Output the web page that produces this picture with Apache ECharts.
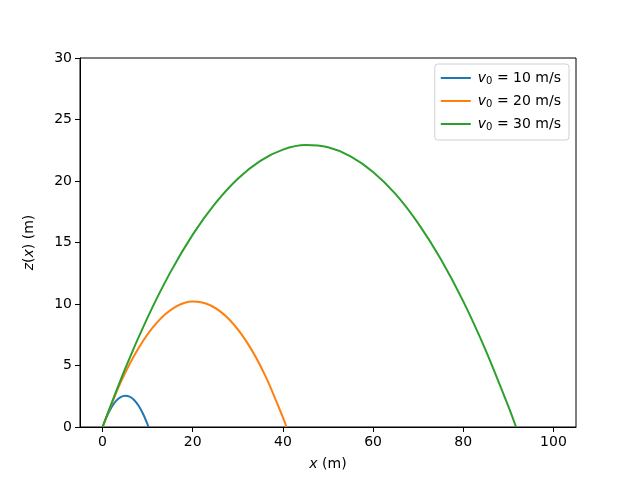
<!DOCTYPE html>
<html>
<head>
<meta charset="utf-8">
<script src="https://cdn.jsdelivr.net/npm/echarts@6/dist/echarts.min.js"></script>
<style>
  html, body {margin: 0; padding: 0; background: #fff;}
  #chart {width: 640px; height: 480px;}
</style>
</head>
<body>
<div id="chart"></div>
<script>
// trajectories, [x (m), z (m)]
let speeds = [10, 20, 30];
let colors = ['#1f77b4', '#ff7f0e', '#2ca02c'];
let traj10 = [[0, 0], [1, 0.9], [2, 1.61], [3, 2.12], [4, 2.43], [5, 2.55], [6, 2.47],
    [7, 2.2], [8, 1.73], [9, 1.06], [10, 0.2], [10.2, 0]];
let traj20 = [[0, 0], [4, 3.61], [8, 6.43], [12, 8.47], [16, 9.73], [20, 10.2], [24, 9.88],
    [28, 8.78], [32, 6.9], [36, 4.24], [40, 0.78], [40.8, 0]];
let traj30 = [[0, 0], [5, 4.73], [10, 8.91], [15, 12.55], [20, 15.64], [25, 18.18], [30, 20.19],
    [35, 21.64], [40, 22.55], [45, 22.92], [50, 22.74], [55, 22.01], [60, 20.74], [65, 18.93],
    [70, 16.56], [75, 13.66], [80, 10.21], [85, 6.21], [90, 1.67], [91.7, 0]];
let xTicks = [0, 20, 40, 60, 80, 100];
let yTicks = [0, 5, 10, 15, 20, 25, 30];

let font = 'DejaVu Sans';
let trajs = [traj10, traj20, traj30];
let names = speeds.map(function (v) { return 'v' + v; });

let chart = echarts.init(document.getElementById('chart'), null, {renderer: 'canvas'});
chart.setOption({
    animation: false,
    backgroundColor: '#fff',
    grid: {left: 80, right: 64, top: 58, bottom: 53, show: true, borderColor: '#000', borderWidth: 1, backgroundColor: 'transparent'},
    legend: {
        orient: 'vertical', right: 71, top: 64, data: names,
        icon: 'rect', itemWidth: 30, itemHeight: 2, itemGap: 8,
        padding: [7, 8, 8, 6],
        backgroundColor: '#fff', borderColor: '#d0d0d0', borderWidth: 1, borderRadius: 3,
        formatter: function (n) {
            return '{i|v}{s|0}{t| = ' + n.slice(1) + ' m/s}';
        },
        textStyle: {
            fontFamily: font, fontSize: 14, color: '#000', padding: [0, 0, 0, 2],
            rich: {
                i: {fontFamily: font, fontSize: 14, fontStyle: 'italic', color: '#000'},
                s: {fontFamily: font, fontSize: 10, color: '#000', verticalAlign: 'bottom', padding: [6, 0, 0, 0]},
                t: {fontFamily: font, fontSize: 14, color: '#000'}
            }
        }
    },
    xAxis: {
        type: 'value', min: -5, max: 105,
        name: '{i|x} (m)', nameLocation: 'middle', nameGap: 30,
        nameTextStyle: {fontFamily: font, fontSize: 14, color: '#000',
            rich: {i: {fontFamily: font, fontSize: 14, fontStyle: 'italic', color: '#000'}}},
        splitLine: {show: false},
        axisLine: {onZero: false, lineStyle: {color: '#000', width: 1}},
        axisTick: {show: true, length: 5, inside: false, customValues: xTicks, lineStyle: {color: '#000'}},
        axisLabel: {customValues: xTicks, fontFamily: font, fontSize: 14, color: '#000', margin: 8}
    },
    yAxis: {
        type: 'value', min: 0, max: 30, interval: 5,
        name: '{i|z}({i|x}) (m)', nameLocation: 'middle', nameGap: 44, nameRotate: 90,
        nameTextStyle: {fontFamily: font, fontSize: 14, color: '#000',
            rich: {i: {fontFamily: font, fontSize: 14, fontStyle: 'italic', color: '#000'}}},
        splitLine: {show: false},
        axisLine: {show: true, onZero: false, lineStyle: {color: '#000', width: 1}},
        axisTick: {show: true, length: 5, inside: false, customValues: yTicks, lineStyle: {color: '#000'}},
        axisLabel: {customValues: yTicks, fontFamily: font, fontSize: 14, color: '#000', margin: 8}
    },
    series: trajs.map(function (t, i) {
        return {
            name: names[i], type: 'line', data: t, smooth: 0.3,
            symbol: 'none', showSymbol: false,
            lineStyle: {color: colors[i], width: 2},
            itemStyle: {color: colors[i]}
        };
    })
});
</script>
</body>
</html>
